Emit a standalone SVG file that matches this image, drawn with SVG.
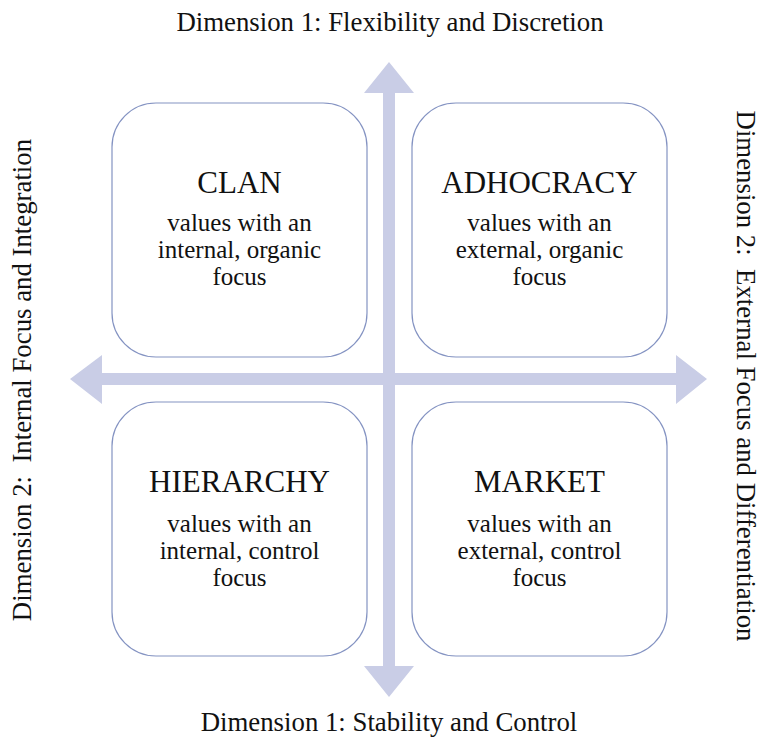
<svg xmlns="http://www.w3.org/2000/svg" width="764" height="740" viewBox="0 0 764 740">
  <style>
    .axis { fill: #c9cde6; }
    .box { fill: #ffffff; stroke: #8493c2; stroke-width: 1.2; }
    text { font-family: "Liberation Serif", "Times New Roman", serif; fill: #111111; text-anchor: middle; }
    .title { font-size: 31px; }
    .body { font-size: 25px; }
    .dim { font-size: 26.8px; }
  </style>
  <rect width="764" height="740" fill="#ffffff"/>

  <!-- Quadrant axes: two double-headed block arrows -->
  <g id="connectors">
    <path class="axis" d="M389,62 L414,93 L395,93 L395,666 L414,666 L389,697 L364,666 L383,666 L383,93 L364,93 Z"/>
    <path class="axis" d="M70,379 L102,355 L102,373 L676,373 L676,355 L707,379 L676,404 L676,385 L102,385 L102,404 Z"/>
  </g>

  <g id="clan">
    <rect class="box" x="112" y="103" width="255" height="254" rx="44"/>
    <text class="title" x="239.5" y="193">CLAN</text>
    <text class="body" x="239.5" y="231">values with an</text>
    <text class="body" x="239.5" y="258">internal, organic</text>
    <text class="body" x="239.5" y="285">focus</text>
  </g>

  <g id="adhocracy">
    <rect class="box" x="412" y="103" width="255" height="254" rx="44"/>
    <text class="title" x="539.5" y="193">ADHOCRACY</text>
    <text class="body" x="539.5" y="231">values with an</text>
    <text class="body" x="539.5" y="258">external, organic</text>
    <text class="body" x="539.5" y="285">focus</text>
  </g>

  <g id="hierarchy">
    <rect class="box" x="112" y="402" width="255" height="254" rx="44"/>
    <text class="title" x="239.5" y="492">HIERARCHY</text>
    <text class="body" x="239.5" y="532">values with an</text>
    <text class="body" x="239.5" y="559">internal, control</text>
    <text class="body" x="239.5" y="586">focus</text>
  </g>

  <g id="market">
    <rect class="box" x="412" y="402" width="255" height="254" rx="44"/>
    <text class="title" x="539.5" y="492">MARKET</text>
    <text class="body" x="539.5" y="532">values with an</text>
    <text class="body" x="539.5" y="559">external, control</text>
    <text class="body" x="539.5" y="586">focus</text>
  </g>

  <!-- Axis captions -->
  <g id="dimension-labels">
    <text class="dim" x="390" y="31">Dimension 1: Flexibility and Discretion</text>
    <text class="dim" x="389" y="731">Dimension 1: Stability and Control</text>
    <text class="dim" transform="translate(31,380) rotate(-90)" xml:space="preserve">Dimension 2:  Internal Focus and Integration</text>
    <text class="dim" transform="translate(737,376) rotate(90)" xml:space="preserve">Dimension 2:  External Focus and Differentiation</text>
  </g>
</svg>
